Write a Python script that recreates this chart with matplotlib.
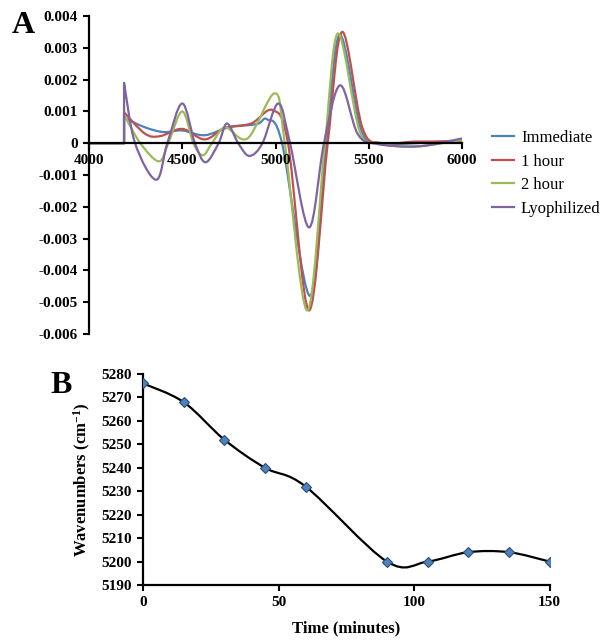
import numpy as np
import matplotlib
matplotlib.use("Agg")
import matplotlib.pyplot as plt
from matplotlib.path import Path
from matplotlib.patches import PathPatch
from matplotlib.lines import Line2D


# ==============================
# DATA
# ==============================

# panel A - second derivative spectra (keypoints)
imm_wn = [4000, 4188, 4188, 4300, 4400, 4500, 4620, 4750, 4900, 4955, 5035, 5185, 5272, 5345, 5460, 5560, 5750, 6000]
imm_y = [0, 0, 0.0008, 0.0005, 0.00035, 0.0004, 0.00025, 0.0005, 0.0006, 0.00075, 0.0, -0.0048, 0.0, 0.0034, 0.0004, 0.0, 0.0, 0.0001]

hr1_wn = [4000, 4188, 4188, 4300, 4380, 4500, 4620, 4730, 4870, 4985, 5067, 5180, 5280, 5357, 5465, 5565, 5750, 6000]
hr1_y = [0, 0, 0.00097, 0.0003, 0.00022, 0.00045, 0.00012, 0.00048, 0.00062, 0.00104, 0.0, -0.00526, 0.0, 0.0035, 0.0005, 0.0, 0.00005, 0.00005]

hr2_wn = [4000, 4188, 4188, 4275, 4375, 4425, 4500, 4560, 4610, 4660, 4730, 4850, 4997, 5050, 5170, 5265, 5335, 5450, 5550, 5750, 6000]
hr2_y = [0, 0, 0.0009, 0.0, -0.00057, 0.0, 0.001, 0.0, -0.00038, 0.0, 0.0005, 0.00015, 0.00157, 0.0, -0.00526, 0.0, 0.00345, 0.0004, 0.0, -0.0001, 0.0001]

lyo_wn = [4000, 4188, 4188, 4247, 4360, 4420, 4500, 4568, 4625, 4695, 4740, 4800, 4860, 4930, 5015, 5078, 5180, 5260, 5346, 5440, 5540, 5770, 6000]
lyo_y = [0, 0, 0.0019, 0.0, -0.00115, 0.0, 0.00125, 0.0, -0.0006, 0.0, 0.00062, 0.0, -0.0004, 0.0, 0.00125, 0.0, -0.00265, 0.0, 0.00182, 0.0003, -0.00002, -0.0001, 0.00015]

labels = ["Immediate", "1 hour", "2 hour", "Lyophilized"]
colors = ["#4F81BD", "#C0504D", "#9BBB59", "#8064A2"]

# panel B - band position vs time
time_min = [0, 15, 30, 45, 60, 90, 105, 120, 135, 150]
wavenumber = [5276, 5268, 5252, 5240, 5232, 5200, 5200, 5204, 5204, 5200]


# ==============================
# STYLE
# ==============================

plt.rcParams["font.family"] = ["Liberation Serif", "DejaVu Serif"]
plt.rcParams["font.weight"] = "bold"
plt.rcParams["mathtext.fontset"] = "custom"
plt.rcParams["mathtext.rm"] = "Liberation Serif:bold"
plt.rcParams["mathtext.bf"] = "Liberation Serif:bold"
plt.rcParams["mathtext.default"] = "bf"


def smooth_path(xs, ys, n_straight=0):
    # Excel-style smoothed line: Catmull-Rom segments as cubic Beziers
    p = np.column_stack([xs, ys]).astype(float)
    verts = [p[0]]
    codes = [Path.MOVETO]
    for i in range(n_straight):
        verts.append(p[i + 1])
        codes.append(Path.LINETO)
    q = p[n_straight:]
    n = len(q)
    for i in range(n - 1):
        p0 = q[i - 1] if i > 0 else q[i]
        p1 = q[i]
        p2 = q[i + 1]
        p3 = q[i + 2] if i + 2 < n else q[i + 1]
        c1 = p1 + (p2 - p0) / 6.0
        c2 = p2 - (p3 - p1) / 6.0
        verts += [c1, c2, p2]
        codes += [Path.CURVE4] * 3
    return Path(verts, codes)


fig = plt.figure(figsize=(6.14, 6.43), dpi=100)

# ==============================
# PANEL A
# ==============================

axA = fig.add_axes([89 / 614, 1 - 334 / 643, 373 / 614, 318 / 643])
series = [(imm_wn, imm_y), (hr1_wn, hr1_y), (hr2_wn, hr2_y), (lyo_wn, lyo_y)]
for (wn, y), c in zip(series, colors):
    axA.add_patch(PathPatch(smooth_path(wn, y, n_straight=2), fill=False,
                            edgecolor=c, lw=1.6, capstyle="round", joinstyle="round"))

axA.set_xlim(4000, 6000)
axA.set_ylim(-0.006, 0.004)
axA.set_xticks([4000, 4500, 5000, 5500, 6000])
axA.set_yticks(np.arange(-0.006, 0.0041, 0.001))
axA.set_yticklabels(["-0.006", "-0.005", "-0.004", "-0.003", "-0.002", "-0.001",
                     "0", "0.001", "0.002", "0.003", "0.004"])
axA.spines["top"].set_visible(False)
axA.spines["right"].set_visible(False)
axA.spines["bottom"].set_position(("data", 0))
axA.spines["left"].set_linewidth(1.6)
axA.spines["bottom"].set_linewidth(1.6)
axA.tick_params(direction="out", length=4, width=1.5, labelsize=11, pad=4)

handles = [Line2D([], [], color=c, lw=1.6) for c in colors]
axA.legend(handles, labels, loc="center left", bbox_to_anchor=(1.08, 0.505),
           frameon=False, prop={"family": "Liberation Serif", "weight": "normal", "size": 12},
           handlelength=1.3, handletextpad=0.45, labelspacing=0.45, borderpad=0, borderaxespad=0)

fig.text(12 / 614, 1 - 33 / 643, "A", fontsize=23, fontweight="bold")

# ==============================
# PANEL B
# ==============================

axB = fig.add_axes([143 / 614, 1 - 585 / 643, 406.5 / 614, 211 / 643])
axB.add_patch(PathPatch(smooth_path(time_min, wavenumber), fill=False,
                        edgecolor="black", lw=1.6))
axB.plot(time_min, wavenumber, linestyle="none", marker="D", markersize=5.5,
         markerfacecolor="#4F81BD", markeredgecolor="#2C4D75", markeredgewidth=0.8, zorder=3)

axB.set_xlim(0, 150)
axB.set_ylim(5190, 5280)
axB.set_xticks([0, 50, 100, 150])
axB.set_yticks(np.arange(5190, 5281, 10))
axB.spines["top"].set_visible(False)
axB.spines["right"].set_visible(False)
axB.spines["left"].set_linewidth(1.6)
axB.spines["bottom"].set_linewidth(1.6)
axB.tick_params(direction="out", length=4, width=1.5, labelsize=11, pad=4)
axB.set_xlabel("Time (minutes)", fontsize=12, fontweight="bold", labelpad=8)
axB.set_ylabel("Wavenumbers (cm$^{-1}$)", fontsize=12, fontweight="bold", labelpad=6)

fig.text(50 / 614, 1 - 393 / 643, "B", fontsize=23, fontweight="bold")

plt.savefig("out.png", dpi=100)
